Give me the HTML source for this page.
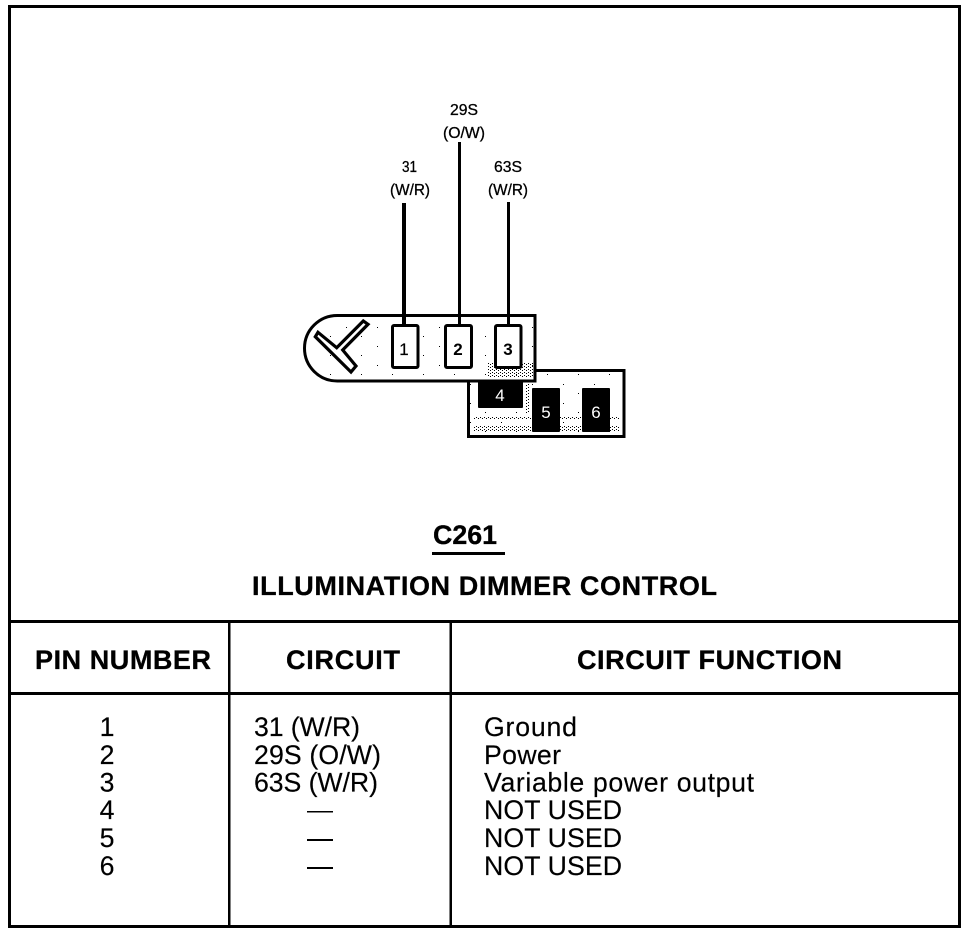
<!DOCTYPE html>
<html><head><meta charset="utf-8"><style>
html,body{margin:0;padding:0;background:#fff}
svg{display:block}
text{font-family:"Liberation Sans",Arial,sans-serif;fill:#000}
.b{font-weight:bold;font-size:27px;stroke:#000;stroke-width:.3}
.t{font-size:26.7px;stroke:#000;stroke-width:.15}
.s{font-size:15.5px;stroke:#000;stroke-width:.3}
.p{font-size:17px;text-anchor:middle}
</style></head><body>
<svg width="976" height="934" viewBox="0 0 976 934" xmlns="http://www.w3.org/2000/svg">
<defs>
<pattern id="d" width="4" height="3" patternUnits="userSpaceOnUse"><rect width="1" height="1" x="0" y="0" fill="#000"/><rect width="1" height="1" x="2" y="1" fill="#000"/></pattern>
<pattern id="e" width="31" height="19" patternUnits="userSpaceOnUse"><rect width="1" height="1" x="5" y="4" fill="#000"/><rect width="1" height="1" x="20" y="13" fill="#000"/></pattern>
</defs>
<rect width="976" height="934" fill="#fff"/>
<!-- frame and table -->
<g fill="#000" shape-rendering="crispEdges">
<rect x="8" y="5" width="953" height="3"/>
<rect x="8" y="5" width="3" height="923"/>
<rect x="958" y="5" width="3" height="923"/>
<rect x="8" y="925" width="953" height="3"/>
<rect x="8" y="620" width="953" height="3"/>
<rect x="8" y="692" width="953" height="3"/>
<rect x="228" y="620" width="2.5" height="308"/>
<rect x="449.500" y="620" width="2.5" height="308"/>
</g>
<!-- lower connector -->
<rect x="468.500" y="370.500" width="155.500" height="66" fill="#fff" stroke="#000" stroke-width="3"/>
<rect x="470" y="372" width="152" height="63" fill="url(#e)" shape-rendering="crispEdges"/>
<rect x="473" y="416" width="146" height="3" fill="url(#d)" shape-rendering="crispEdges"/>
<rect x="473" y="425" width="146" height="6" fill="url(#d)" shape-rendering="crispEdges"/>
<rect x="525" y="384" width="5" height="30" fill="url(#d)" shape-rendering="crispEdges"/>
<rect x="478" y="378" width="45" height="30" rx="1" fill="#000"/>
<rect x="532" y="388" width="28" height="44" rx="1" fill="#000"/>
<rect x="582" y="388" width="28" height="44" rx="1" fill="#000"/>
<!-- upper connector -->
<path d="M535 315.500H337.250a32.750 32.750 0 0 0 0 65.500H535Z" fill="#fff" stroke="#000" stroke-width="3"/>
<rect x="320" y="318" width="213" height="61" fill="url(#e)" shape-rendering="crispEdges"/>
<rect x="487" y="362" width="46" height="16" fill="url(#d)" shape-rendering="crispEdges"/>
<path d="M318 332.300L336.700 347.700L363.300 321L368 324.300L342.700 350L356 366L351 372L315.300 336.700Z" fill="#fff" stroke="#000" stroke-width="3.200"/>
<!-- wires -->
<g fill="#000" shape-rendering="crispEdges">
<rect x="402" y="203" width="4" height="122"/>
<rect x="458" y="142" width="3" height="183"/>
<rect x="507" y="202" width="3" height="123"/>
</g>
<!-- pins -->
<g fill="#fff" stroke="#000" stroke-width="3">
<rect x="392.500" y="325.500" width="25.500" height="42" rx="1.500"/>
<rect x="445.500" y="325.500" width="26" height="42" rx="1.500"/>
<rect x="495.500" y="325.500" width="25.500" height="42" rx="1.500"/>
</g>
<text class="p" x="404" y="355" style="stroke:#000;stroke-width:.2">1</text>
<text class="p" x="458" y="355" style="font-weight:bold">2</text>
<text class="p" x="508" y="355" style="font-weight:bold">3</text>
<text class="p" x="500" y="401" style="fill:#fff">4</text>
<text class="p" x="546" y="418" style="fill:#fff">5</text>
<text class="p" x="596" y="418" style="fill:#fff">6</text>
<!-- wire labels -->
<text class="s" x="450" y="115" textLength="28" lengthAdjust="spacingAndGlyphs">29S</text>
<text class="s" x="443" y="138" textLength="42" lengthAdjust="spacingAndGlyphs">(O/W)</text>
<text class="s" x="402" y="172" textLength="15" lengthAdjust="spacingAndGlyphs">31</text>
<text class="s" x="390" y="195" textLength="40" lengthAdjust="spacingAndGlyphs">(W/R)</text>
<text class="s" x="494" y="172" textLength="28" lengthAdjust="spacingAndGlyphs">63S</text>
<text class="s" x="488" y="195" textLength="40" lengthAdjust="spacingAndGlyphs">(W/R)</text>
<!-- titles -->
<text class="b" x="433" y="544" textLength="64" lengthAdjust="spacingAndGlyphs">C261</text>
<rect x="432" y="552" width="73" height="3" fill="#000" shape-rendering="crispEdges"/>
<text class="b" x="252" y="595" textLength="465" lengthAdjust="spacing">ILLUMINATION DIMMER CONTROL</text>
<!-- table header -->
<text class="b" x="35" y="669" textLength="176" lengthAdjust="spacing">PIN NUMBER</text>
<text class="b" x="286" y="669" textLength="114" lengthAdjust="spacing">CIRCUIT</text>
<text class="b" x="577" y="669" textLength="265" lengthAdjust="spacing">CIRCUIT FUNCTION</text>
<!-- pin numbers -->
<g text-anchor="middle">
<text class="t" x="107" y="736">1</text>
<text class="t" x="107" y="764">2</text>
<text class="t" x="107" y="791.500">3</text>
<text class="t" x="107" y="819">4</text>
<text class="t" x="107" y="847">5</text>
<text class="t" x="107" y="875">6</text>
</g>
<!-- circuits -->
<text class="t" x="254" y="736" textLength="106" lengthAdjust="spacing">31 (W/R)</text>
<text class="t" x="254" y="764" textLength="127" lengthAdjust="spacing">29S (O/W)</text>
<text class="t" x="254" y="791.500" textLength="124" lengthAdjust="spacing">63S (W/R)</text>
<g fill="#000" shape-rendering="crispEdges">
<rect x="307" y="811" width="26" height="1.500"/>
<rect x="307" y="839" width="26" height="2"/>
<rect x="307" y="867" width="26" height="2"/>
</g>
<!-- functions -->
<text class="t" x="484" y="736" textLength="93" lengthAdjust="spacing">Ground</text>
<text class="t" x="484" y="764" textLength="77" lengthAdjust="spacing">Power</text>
<text class="t" x="484" y="791.500" textLength="270" lengthAdjust="spacing">Variable power output</text>
<text class="t" x="484" y="819" textLength="138" lengthAdjust="spacing">NOT USED</text>
<text class="t" x="484" y="847" textLength="138" lengthAdjust="spacing">NOT USED</text>
<text class="t" x="484" y="875" textLength="138" lengthAdjust="spacing">NOT USED</text>
</svg>
</body></html>
